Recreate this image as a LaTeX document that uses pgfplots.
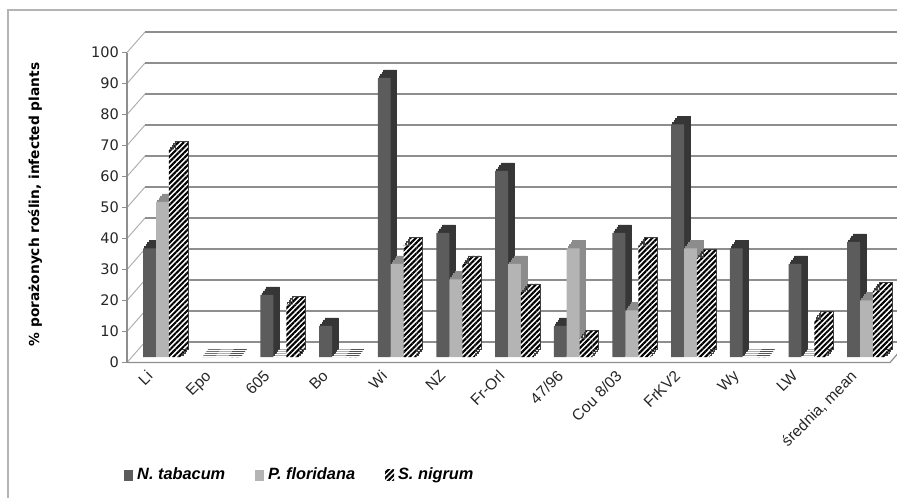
\documentclass[border=0pt]{standalone}
\usepackage{fontspec}
\setmainfont{Liberation Sans}
\newfontfamily\dejavu{DejaVu Sans}
\usepackage{pgfplots}
\usepackage{pgfplotstable}
\pgfplotsset{compat=1.18}
\usetikzlibrary{patterns.meta}

\definecolor{ntfront}{HTML}{5C5C5C}
\definecolor{ntside}{HTML}{363636}
\definecolor{pffront}{HTML}{B4B4B4}
\definecolor{pfside}{HTML}{8C8C8C}
\definecolor{gridc}{HTML}{8E8E8E}
\definecolor{framec}{HTML}{B4B4B4}

\pgfplotstableread{
x nt pf sn
0 35 50 67
1 0 0 0
2 20 0 17
3 10 0 0
4 90 30 36
5 40 25 30
6 60 30 21
7 10 35 6
8 40 15 36
9 75 35 32
10 35 0 0
11 30 0 12
12 37.1 18.3 21.4
}\datatab

\tikzset{hatch/.style={fill=white, postaction={pattern={Lines[angle=45,distance=1.9bp,line width=1.05bp]}}}}

\begin{document}
\begin{tikzpicture}
\path[use as bounding box, clip] (0,0) rectangle (448.5bp,249bp);
\begin{scope}[x=0.5bp,y=0.5bp]
  % outer frame
  \draw[framec, line width=0.6bp] (8,-10) -- (8,488) -- (910,488);
  % back grid lines with depth diagonals
  \foreach \v in {0,10,...,100}{
    \pgfmathsetmacro\fy{135.5+3.1*\v}
    \draw[gridc!70, line width=0.5bp] (127,\fy) -- (145,{\fy+20.5});
    \draw[gridc, line width=0.6bp] (145,{\fy+20.5}) -- (910,{\fy+20.5});
    \draw[gridc, line width=0.6bp] (122,\fy) -- (127,\fy);
  }
  % front axis line and floor edge
  \draw[gridc, line width=0.6bp] (127,135.5) -- (127,445.5);
  \draw[gridc, line width=0.6bp] (127,135.5) -- (890,135.5) -- (908,156);
\end{scope}
\begin{axis}[
  at={(63.5bp,70.5bp)}, anchor=south west,
  scale only axis, width=381.5bp, height=155bp,
  xmin=-0.605, xmax=12.4, ymin=0, ymax=100,
  clip=false,
  axis line style={draw=none},
  tick style={draw=none},
  major tick length=0pt,
  ytick={0,10,...,100},
  ytick pos=left,
  /pgf/number format/assume math mode=true,
  yticklabel style={font=\dejavu\fontsize{7.3}{8}\selectfont, text=black!85, anchor=east, inner sep=0pt, xshift=-3.9bp, yshift=-2.75bp},
  xtick={0,...,12},
  xticklabels={Li,Epo,605,Bo,Wi,NZ,Fr-Orl,47/96,Cou 8/03,FrKV2,Wy,LW,{średnia, mean}},
  xticklabel style={xshift=-8.5bp, yshift=-6bp, rotate=45, anchor=north east, inner sep=0pt, font=\fontsize{7.8}{9}\selectfont, text=black!85},
  xtick pos=bottom,
  ylabel={\% porażonych roślin, infected plants},
  every axis y label/.style={at={(rel axis cs:-0.1206,0.492)}, rotate=90, anchor=center, font=\dejavu\bfseries\fontsize{6.9}{8}\selectfont},
  legend columns=3,
  legend style={at={(rel axis cs:-0.012,-0.381)}, anchor=west, draw=none, fill=none, font=\bfseries\itshape\fontsize{8.2}{9}\selectfont, /tikz/every even column/.append style={column sep=13bp}},
  legend image code/.code={\path[#1, draw=none] (0bp,-2.75bp) rectangle (4.5bp,2.75bp);},
]
% N. tabacum
\pgfplotsinvokeforeach{1,2,3,4}{
  \addplot[ybar, bar width=0.22, bar shift=-0.22, fill=ntside, draw=ntside, line width=0.4bp, xshift={#1*0.75bp}, yshift={#1*1bp}, forget plot] table[x=x,y=nt]{\datatab};
}
\addplot[ybar, bar width=0.22, bar shift=-0.22, fill=ntfront, draw=none] table[x=x,y=nt]{\datatab};
\addlegendentry{N. tabacum}
% P. floridana
\pgfplotsinvokeforeach{1,2,3,4}{
  \addplot[ybar, bar width=0.22, bar shift=0, fill=pfside, draw=pfside, line width=0.4bp, xshift={#1*0.75bp}, yshift={#1*1bp}, forget plot] table[x=x,y=pf]{\datatab};
}
\addplot[ybar, bar width=0.22, bar shift=0, fill=pffront, draw=none] table[x=x,y=pf]{\datatab};
\addlegendentry{P. floridana}
% S. nigrum
\pgfplotsinvokeforeach{1,2,3,4}{
  \addplot[ybar, bar width=0.22, bar shift=0.22, hatch, draw=black!75, line width=0.3bp, xshift={#1*0.75bp}, yshift={#1*1bp}, forget plot] table[x=x,y=sn]{\datatab};
}
\addplot[ybar, bar width=0.22, bar shift=0.22, hatch, draw=none] table[x=x,y=sn]{\datatab};
\addlegendentry{S. nigrum}
\end{axis}
\end{tikzpicture}
\end{document}
